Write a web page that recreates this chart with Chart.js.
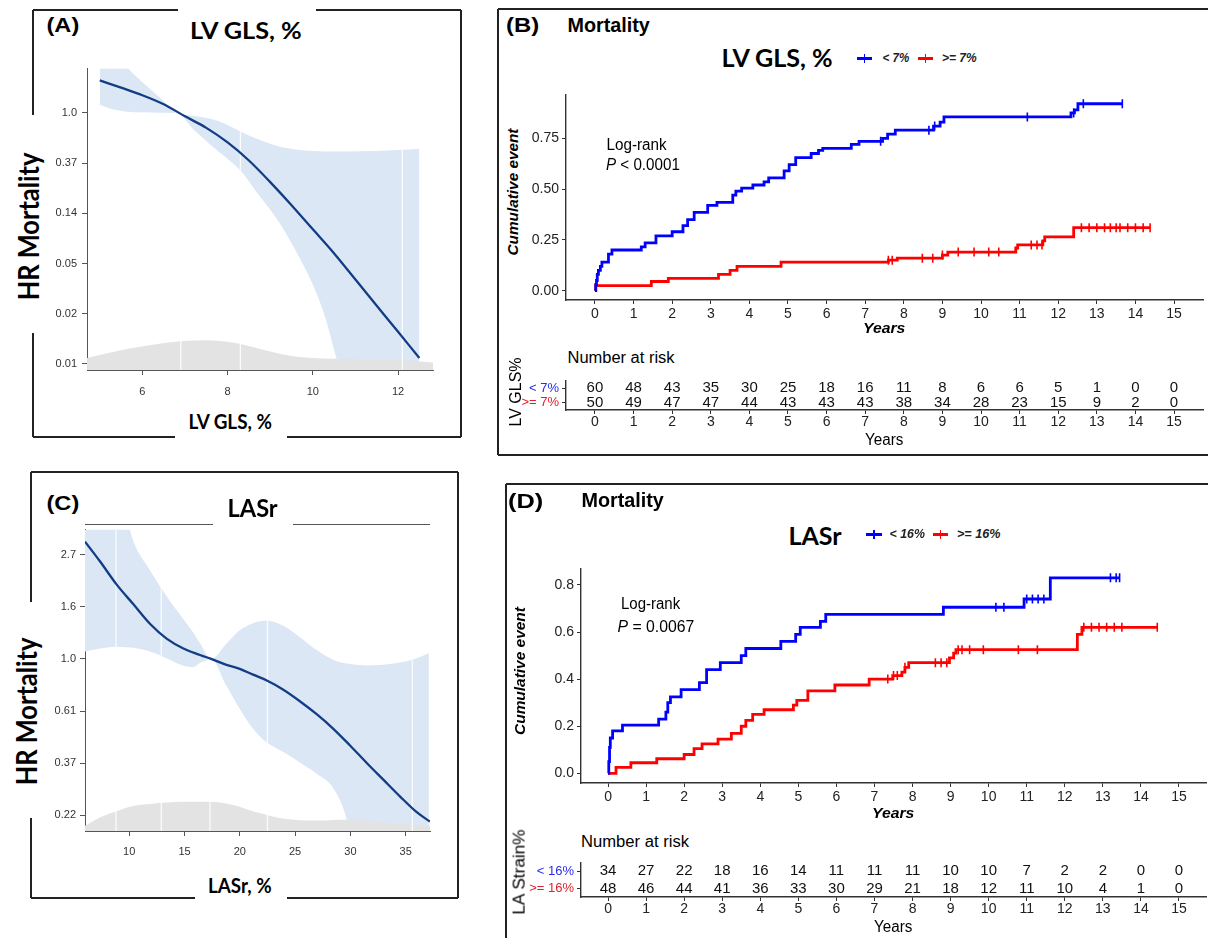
<!DOCTYPE html>
<html><head><meta charset="utf-8">
<script src="https://cdn.jsdelivr.net/npm/chart.js@4"></script>
<style>
html,body{margin:0;padding:0;background:#fff;}
body{width:1208px;height:938px;position:relative;overflow:hidden;}
canvas{position:absolute;}
.ln{position:absolute;background:#222;}
</style></head>
<body>
<script>
// ================= DATA =================
// Panel A: restricted cubic spline, LV GLS (ln HR scale)
const aCurveX = [5.0, 5.5, 6.0, 6.5, 7.0, 7.5, 8.0, 8.5, 9.0, 9.5, 10.0, 10.5, 11.0, 11.5, 12.0, 12.5];
const aCurveY = [0.645, 0.50, 0.35, 0.17, -0.07, -0.30, -0.59, -0.95, -1.38, -1.84, -2.32, -2.80, -3.32, -3.84, -4.36, -4.88];
const aBandX  = [5.0, 5.3, 5.65, 6.0, 6.4, 6.8, 7.2, 7.76, 8.3, 8.7, 9.17, 9.6, 10.0, 10.3, 10.56, 10.8, 11.5, 12.0, 12.5];
const aBandUp = [1.3, 1.3, 0.9, 0.61, 0.31, 0.0, -0.06, -0.16, -0.37, -0.52, -0.66, -0.73, -0.76, -0.77, -0.77, -0.77, -0.76, -0.74, -0.72];
const aBandLo = [0.16, 0.07, 0.02, 0.01, 0.0, 0.0, -0.33, -0.75, -1.15, -1.6, -2.13, -2.75, -3.42, -4.1, -4.9, -5.5, -5.5, -5.5, -5.5];
const aDensX  = [4.7, 5.2, 5.7, 6.2, 6.9, 7.5, 8.0, 8.5, 9.0, 9.5, 10.0, 11.0, 12.0, 12.82];
const aDensY  = [-4.88, -4.78, -4.69, -4.62, -4.55, -4.53, -4.56, -4.64, -4.75, -4.84, -4.88, -4.90, -4.92, -4.97];
const aRug    = [6.9, 8.3, 12.1];
const aXTicks = [6, 8, 10, 12];
const aYTicks = [0, -1, -2, -3, -4, -5];
const aYLabels = ['1.0', '0.37', '0.14', '0.05', '0.02', '0.01'];

// Panel C: restricted cubic spline, LASr (ln HR scale)
const cCurveX = [6.0, 7.35, 8.85, 10.36, 11.87, 13.38, 14.9, 16.4, 17.4, 18.8, 20.0, 21.2, 22.4, 23.9, 25.4, 26.95, 28.46, 29.97, 31.5, 33.0, 34.5, 36.0, 37.2];
const cCurveY = [1.125, 0.936, 0.715, 0.526, 0.337, 0.195, 0.10, 0.038, 0.0, -0.057, -0.095, -0.151, -0.205, -0.293, -0.403, -0.53, -0.67, -0.83, -1.0, -1.16, -1.32, -1.47, -1.56];
const cBandX  = [6.0, 7.35, 8.85, 9.9, 10.36, 11.87, 13.38, 14.9, 15.8, 16.4, 17.4, 18.8, 20.0, 21.2, 22.4, 23.9, 25.4, 26.95, 28.46, 29.67, 30.5, 31.5, 33.0, 34.5, 36.0, 37.1];
const cBandUp = [1.6, 1.6, 1.6, 1.3, 1.13, 0.85, 0.6, 0.38, 0.25, 0.15, 0.0, 0.148, 0.274, 0.343, 0.369, 0.32, 0.21, 0.085, -0.01, -0.045, -0.055, -0.063, -0.057, -0.035, 0.006, 0.054];
const cBandLo = [0.07, 0.10, 0.117, 0.11, 0.107, 0.07, 0.006, -0.066, -0.079, -0.04, 0.0, -0.26, -0.48, -0.67, -0.80, -0.89, -0.99, -1.10, -1.24, -1.54, -2.0, -2.0, -2.0, -2.0, -2.0, -2.0];
const cDensX  = [6.0, 7.35, 8.85, 10.36, 11.87, 14.9, 17.3, 19.4, 21.2, 23.9, 26.95, 29.97, 33.0, 37.2];
const cDensY  = [-1.60, -1.52, -1.46, -1.41, -1.39, -1.37, -1.37, -1.40, -1.46, -1.53, -1.55, -1.54, -1.57, -1.60];
const cRug    = [8.8, 12.9, 17.3, 22.5, 35.6];
const cXTicks = [10, 15, 20, 25, 30, 35];
const cYTicks = [1, 0.5, 0, -0.5, -1, -1.5];
const cYLabels = ['2.7', '1.6', '1.0', '0.61', '0.37', '0.22'];

// Panel B: cumulative mortality by LV GLS group
const bBlueT = [0, 0.02, 0.04, 0.06, 0.09, 0.14, 0.18, 0.35, 0.44, 1.2, 1.3, 1.58, 2.0, 2.28, 2.4, 2.57, 2.92, 3.16, 3.57, 3.65, 3.8, 4.09, 4.38, 4.5, 4.9, 5.03, 5.2, 5.6, 5.79, 5.9, 6.64, 6.84, 7.45, 7.58, 7.78, 8.77, 8.94, 9.04, 12.33, 12.42, 12.51, 13.66];
const bBlueS = [0, 0.03, 0.05, 0.08, 0.10, 0.12, 0.14, 0.18, 0.20, 0.215, 0.235, 0.27, 0.29, 0.32, 0.35, 0.385, 0.42, 0.435, 0.47, 0.49, 0.505, 0.52, 0.535, 0.555, 0.59, 0.62, 0.655, 0.675, 0.69, 0.70, 0.72, 0.735, 0.75, 0.77, 0.79, 0.81, 0.83, 0.855, 0.875, 0.89, 0.92, 0.92];
const bRedT  = [0, 0.02, 1.46, 1.9, 3.2, 3.5, 3.68, 4.82, 7.6, 7.83, 9.0, 9.14, 10.9, 10.95, 11.6, 11.65, 12.4, 14.38];
const bRedS  = [0, 0.025, 0.045, 0.06, 0.08, 0.10, 0.12, 0.14, 0.15, 0.16, 0.175, 0.19, 0.21, 0.225, 0.245, 0.265, 0.31, 0.31];
const bBlueCens = [7.4, 8.65, 8.8, 11.2, 12.4, 12.65, 13.66];
const bRedCens  = [7.6, 7.7, 8.48, 8.75, 9.0, 9.41, 9.82, 10.2, 10.46, 11.3, 11.45, 11.58, 12.6, 12.8, 13.0, 13.2, 13.35, 13.5, 13.6, 13.8, 14.0, 14.2, 14.38];
const bYTicks = [0, 0.25, 0.5, 0.75];
const bYLabels = ['0.00', '0.25', '0.50', '0.75'];
const bGroups = ['< 7%', '>= 7%'];
const bRiskLow  = [60, 48, 43, 35, 30, 25, 18, 16, 11, 8, 6, 6, 5, 1, 0, 0];
const bRiskHigh = [50, 49, 47, 47, 44, 43, 43, 43, 38, 34, 28, 23, 15, 9, 2, 0];

// Panel D: cumulative mortality by LASr group
const dBlueT = [0, 0.02, 0.04, 0.06, 0.12, 0.38, 1.33, 1.52, 1.57, 1.64, 1.92, 2.4, 2.59, 2.95, 3.5, 3.62, 4.54, 4.93, 5.05, 5.58, 5.72, 8.81, 10.93, 11.62, 13.44];
const dBlueS = [0, 0.05, 0.11, 0.15, 0.18, 0.205, 0.23, 0.26, 0.30, 0.325, 0.355, 0.385, 0.44, 0.47, 0.50, 0.53, 0.56, 0.59, 0.62, 0.645, 0.675, 0.705, 0.74, 0.83, 0.83];
const dRedT  = [0, 0.21, 0.6, 1.28, 2.0, 2.26, 2.47, 2.89, 3.24, 3.5, 3.62, 3.8, 4.1, 4.87, 4.96, 5.25, 5.96, 6.86, 7.48, 7.72, 7.8, 7.9, 8.97, 9.08, 9.14, 12.33, 12.45, 14.43];
const dRedS  = [0, 0.025, 0.045, 0.062, 0.08, 0.105, 0.125, 0.145, 0.17, 0.20, 0.225, 0.25, 0.27, 0.29, 0.31, 0.35, 0.375, 0.40, 0.415, 0.43, 0.45, 0.47, 0.49, 0.51, 0.525, 0.59, 0.62, 0.62];
const dBlueCens = [10.19, 10.4, 11.0, 11.15, 11.3, 11.45, 13.2, 13.35, 13.44];
const dRedCens  = [7.35, 7.5, 7.6, 7.8, 8.6, 8.75, 8.9, 9.2, 9.3, 9.5, 9.86, 10.78, 11.28, 12.5, 12.7, 12.9, 13.1, 13.3, 13.5, 14.43];
const dYTicks = [0, 0.2, 0.4, 0.6, 0.8];
const dYLabels = ['0.0', '0.2', '0.4', '0.6', '0.8'];
const dGroups = ['< 16%', '>= 16%'];
const dRiskLow  = [34, 27, 22, 18, 16, 14, 11, 11, 11, 10, 10, 7, 2, 2, 0, 0];
const dRiskHigh = [48, 46, 44, 41, 36, 33, 30, 29, 21, 18, 12, 11, 10, 4, 1, 0];

const years = [0, 1, 2, 3, 4, 5, 6, 7, 8, 9, 10, 11, 12, 13, 14, 15];

// ================= HELPERS =================
const ARIAL = '"Liberation Sans", Arial, sans-serif';
const NARROW = '"Liberation Sans Narrow", "Arial Narrow", "Liberation Sans", sans-serif';
const TITLE = 'Lato, "Open Sans", sans-serif';
const BLUE = '#0000ff', RED = '#ff0000';
const BLUE_T = '#2b2bf0', RED_T = '#e3202e';

function xy(xs, ys) { return xs.map((x, i) => ({ x: x, y: ys[i] })); }
function stepAt(ts, ss, t) { let v = ss[0]; for (let i = 0; i < ts.length; i++) { if (ts[i] <= t) v = ss[i]; } return v; }

function place(a) {
  const c = document.createElement('canvas');
  const left = a.L - a.wy, top = a.T - a.pt;
  const w = a.R - left + a.pr, h = a.B + a.hx - top;
  c.width = w; c.height = h;
  c.style.left = left + 'px'; c.style.top = top + 'px';
  c.style.width = w + 'px'; c.style.height = h + 'px';
  document.body.appendChild(c);
  return c;
}
function baseOptions(a) {
  return {
    responsive: false, animation: false, devicePixelRatio: 1, events: [],
    layout: { autoPadding: false, padding: { left: 0, top: a.pt, right: a.pr, bottom: 0 } },
    plugins: { legend: { display: false }, tooltip: { enabled: false }, title: { display: false } }
  };
}
function line(x1, y1, x2, y2, w, col) {
  const d = document.createElement('div');
  d.className = 'ln';
  if (col) d.style.background = col;
  if (y1 === y2) { d.style.left = x1 + 'px'; d.style.top = (y1 - w / 2) + 'px'; d.style.width = (x2 - x1) + 'px'; d.style.height = w + 'px'; }
  else { d.style.left = (x1 - w / 2) + 'px'; d.style.top = y1 + 'px'; d.style.width = w + 'px'; d.style.height = (y2 - y1) + 'px'; }
  document.body.appendChild(d);
}
function txt(html, x, y, o) {
  const d = document.createElement('div');
  d.innerHTML = html;
  d.style.cssText = 'position:absolute;white-space:nowrap;line-height:1;left:0;top:0;font:' + o.font + ';color:' + (o.color || '#000') + ';';
  document.body.appendChild(d);
  const w = d.offsetWidth, h = d.offsetHeight;
  const s = o.w ? o.w / w : 1;
  let cx = x;
  if (o.align === 'l') cx = x + w * s / 2;
  d.style.left = (cx - w / 2) + 'px';
  d.style.top = (y - h / 2) + 'px';
  d.style.transformOrigin = '50% 50%';
  d.style.transform = (o.rot ? 'rotate(-90deg) ' : '') + 'scaleX(' + s + ')';
}
function marker(x1, x2, y, col) {
  line(x1, y, x2, y, 3, col);
  line((x1 + x2) / 2, y - 4.5, (x1 + x2) / 2, y + 4.5, 1.6, col);
}

// ---------- spline HR chart ----------
function splineChart(a, c) {
  const cv = place(a);
  const ds = [];
  ds.push({ data: xy(c.curveX, c.curveY), borderColor: '#123d86', borderWidth: 2.3, pointRadius: 0, fill: false, cubicInterpolationMode: 'monotone', order: 0 });
  c.rug.forEach(x => ds.push({ data: [{ x: x, y: c.yMin }, { x: x, y: c.yMax }], borderColor: 'rgba(255,255,255,0.85)', borderWidth: 1.3, pointRadius: 0, fill: false, order: 1 }));
  ds.push({ data: xy(c.densX, c.densY), borderWidth: 0, borderColor: 'rgba(0,0,0,0)', backgroundColor: '#e3e3e3', fill: 'start', pointRadius: 0, cubicInterpolationMode: 'monotone', order: 2 });
  const up = ds.length;
  ds.push({ data: xy(c.bandX, c.bandUp), borderWidth: 0, borderColor: 'rgba(0,0,0,0)', backgroundColor: '#dbe7f4', fill: up + 1, pointRadius: 0, cubicInterpolationMode: 'monotone', order: 3 });
  ds.push({ data: xy(c.bandX, c.bandLo), borderWidth: 0, borderColor: 'rgba(0,0,0,0)', fill: false, pointRadius: 0, cubicInterpolationMode: 'monotone', order: 3 });
  const opt = baseOptions(a);
  opt.scales = {
    x: {
      type: 'linear', min: c.xMin, max: c.xMax,
      afterFit: s => { s.height = a.hx; },
      afterBuildTicks: s => { s.ticks = c.xTicks.map(v => ({ value: v })); },
      grid: { drawOnChartArea: false, tickLength: 5, color: '#555' },
      border: { color: '#555', width: 1 },
      ticks: { font: { family: ARIAL, size: 11 }, color: '#333', padding: a.xpad, maxRotation: 0, autoSkip: false }
    },
    y: {
      type: 'linear', min: c.yMin, max: c.yMax,
      afterFit: s => { s.width = a.wy; },
      afterBuildTicks: s => { s.ticks = c.yTicks.map(v => ({ value: v })); },
      grid: { drawOnChartArea: false, tickLength: 5, color: '#555' },
      border: { color: '#555', width: 1 },
      ticks: { font: { family: ARIAL, size: 11 }, color: '#333', padding: a.ypad, autoSkip: false, callback: (v, i) => c.yLabels[i] }
    }
  };
  new Chart(cv, { type: 'line', data: { datasets: ds }, options: opt });
}

// ---------- Kaplan-Meier chart ----------
function kmChart(a, c) {
  const cv = place(a);
  const ds = [
    { data: xy(c.blueT, c.blueS), stepped: true, borderColor: BLUE, borderWidth: 2.8, pointRadius: 0, fill: false },
    { data: xy(c.redT, c.redS), stepped: true, borderColor: RED, borderWidth: 2.8, pointRadius: 0, fill: false },
    { data: c.blueC.map(t => ({ x: t, y: stepAt(c.blueT, c.blueS, t) })), showLine: false, pointStyle: 'line', rotation: 90, pointRadius: 4.5, pointBorderWidth: 1.6, pointBorderColor: BLUE, borderColor: BLUE },
    { data: c.redC.map(t => ({ x: t, y: stepAt(c.redT, c.redS, t) })), showLine: false, pointStyle: 'line', rotation: 90, pointRadius: 4.5, pointBorderWidth: 1.6, pointBorderColor: RED, borderColor: RED }
  ];
  const opt = baseOptions(a);
  opt.scales = {
    x: {
      type: 'linear', min: c.xMin, max: c.xMax,
      afterFit: s => { s.height = a.hx; },
      afterBuildTicks: s => { s.ticks = years.map(v => ({ value: v })); },
      grid: { drawOnChartArea: false, tickLength: 4, color: '#333' },
      border: { color: '#333', width: 1.4 },
      ticks: { font: { family: NARROW, size: 14 }, color: '#222', padding: 2, maxRotation: 0, autoSkip: false }
    },
    y: {
      type: 'linear', min: c.yMin, max: c.yMax,
      afterFit: s => { s.width = a.wy; },
      afterBuildTicks: s => { s.ticks = c.yTicks.map(v => ({ value: v })); },
      grid: { drawOnChartArea: false, tickLength: 4, color: '#333' },
      border: { color: '#333', width: 1.4 },
      ticks: { font: { family: NARROW, size: 14 }, color: '#222', padding: 3, autoSkip: false, callback: (v, i) => c.yLabels[i] }
    }
  };
  new Chart(cv, { type: 'line', data: { datasets: ds }, options: opt });
}

// ---------- risk table chart ----------
function riskChart(a, c) {
  const cv = place(a);
  const rows = [c.low, c.high];
  const plug = {
    id: 'riskNumbers',
    afterDatasetsDraw(chart) {
      const ctx = chart.ctx, xs = chart.scales.x, ys = chart.scales.y;
      ctx.save();
      ctx.font = '15px ' + NARROW;
      ctx.fillStyle = '#111';
      ctx.textAlign = 'center';
      ctx.textBaseline = 'middle';
      rows.forEach((row, r) => row.forEach((n, i) => ctx.fillText(String(n), xs.getPixelForValue(years[i]), ys.getPixelForValue(r))));
      ctx.restore();
    }
  };
  const opt = baseOptions(a);
  opt.scales = {
    x: {
      type: 'linear', min: c.xMin, max: c.xMax,
      afterFit: s => { s.height = a.hx; },
      afterBuildTicks: s => { s.ticks = years.map(v => ({ value: v })); },
      grid: { drawOnChartArea: false, tickLength: 4, color: '#333' },
      border: { color: '#333', width: 1.4 },
      ticks: { font: { family: NARROW, size: 14 }, color: '#222', padding: 0, maxRotation: 0, autoSkip: false }
    },
    y: {
      type: 'category', labels: c.groups, offset: true,
      afterFit: s => { s.width = a.wy; },
      grid: { drawOnChartArea: false, tickLength: 4, color: '#333', offset: false },
      border: { color: '#333', width: 1.4 },
      ticks: { font: { family: NARROW, size: 13 }, color: ctx => (ctx.index === 0 ? BLUE_T : RED_T), padding: 3, autoSkip: false }
    }
  };
  new Chart(cv, { type: 'line', data: { datasets: [{ data: [], pointRadius: 0 }] }, options: opt, plugins: [plug] });
}

// ================= BUILD =================
// ---- Panel A ----
line(33, 10, 178, 10, 1.5); line(316, 10, 461, 10, 1.5);
line(33, 10, 33, 115, 1.5); line(33, 333, 33, 437, 1.5);
line(461, 10, 461, 437, 1.5);
line(33, 437, 175, 437, 1.5); line(287, 437, 461, 437, 1.5);
splineChart({ L: 87, T: 63, R: 433, B: 370, wy: 42, hx: 32, pt: 6, pr: 12, xpad: 10, ypad: 5 },
  { curveX: aCurveX, curveY: aCurveY, bandX: aBandX, bandUp: aBandUp, bandLo: aBandLo, densX: aDensX, densY: aDensY, rug: aRug,
    xMin: 4.7, xMax: 12.82, yMin: -5.12, yMax: 0.88, xTicks: aXTicks, yTicks: aYTicks, yLabels: aYLabels });
txt('(A)', 63, 25, { font: 'bold 20px ' + ARIAL, w: 33 });
txt('LV GLS, %', 246, 30, { font: 'bold 23px ' + TITLE, w: 112 });
txt('HR Mortality', 27, 226, { font: 'bold 29px ' + TITLE, w: 148, rot: true });
txt('LV GLS, %', 230, 421, { font: 'bold 20px ' + TITLE, w: 84 });

// ---- Panel C ----
line(31, 472, 458, 472, 1.5);
line(31, 472, 31, 602, 1.5); line(31, 818, 31, 898, 1.5);
line(458, 472, 458, 898, 1.5);
line(31, 898, 195, 898, 1.5); line(287, 898, 458, 898, 1.5);
line(85, 524, 213, 524, 1, '#555'); line(293, 524, 430, 524, 1, '#555');
splineChart({ L: 85, T: 525, R: 430, B: 831, wy: 42, hx: 32, pt: 6, pr: 12, xpad: 9, ypad: 4 },
  { curveX: cCurveX, curveY: cCurveY, bandX: cBandX, bandUp: cBandUp, bandLo: cBandLo, densX: cDensX, densY: cDensY, rug: cRug,
    xMin: 6.0, xMax: 37.2, yMin: -1.65, yMax: 1.24, xTicks: cXTicks, yTicks: cYTicks, yLabels: cYLabels });
txt('(C)', 63, 503, { font: 'bold 20px ' + ARIAL, w: 33 });
txt('LASr', 252, 507, { font: 'bold 25px ' + TITLE, w: 50 });
txt('HR Mortality', 25, 711, { font: 'bold 29px ' + TITLE, w: 148, rot: true });
txt('LASr, %', 240, 885, { font: 'bold 20px ' + TITLE, w: 64 });

// ---- Panel B ----
line(498, 9, 1208, 9, 2.2);
line(498, 9, 498, 455, 1.5);
line(498, 455, 1208, 455, 1.8);
kmChart({ L: 566, T: 87, R: 1203, B: 300, wy: 42, hx: 24, pt: 4, pr: 5 },
  { blueT: bBlueT, blueS: bBlueS, redT: bRedT, redS: bRedS, blueC: bBlueCens, redC: bRedCens,
    xMin: -0.75, xMax: 15.75, yMin: -0.046, yMax: 0.966, yTicks: bYTicks, yLabels: bYLabels });
riskChart({ L: 566, T: 373, R: 1203, B: 410, wy: 48, hx: 26, pt: 3, pr: 5 },
  { low: bRiskLow, high: bRiskHigh, groups: bGroups, xMin: -0.75, xMax: 15.75 });
txt('(B)', 522, 25, { font: 'bold 21px ' + ARIAL, w: 33 });
txt('Mortality', 608, 25, { font: 'bold 20px ' + NARROW, w: 82 });
txt('LV GLS, %', 777, 57, { font: 'bold 24px ' + TITLE, w: 111 });
marker(857, 872, 58, BLUE);
txt('&lt; 7%', 882, 58, { font: 'italic bold 12px ' + ARIAL, w: 27, align: 'l', color: '#222' });
marker(918, 933, 58, RED);
txt('&gt;= 7%', 942, 58, { font: 'italic bold 12px ' + ARIAL, w: 35, align: 'l', color: '#222' });
txt('Log-rank', 606, 145, { font: '16px ' + NARROW, w: 60, align: 'l' });
txt('<i>P</i> &lt; 0.0001', 606, 165, { font: '16px ' + NARROW, w: 74, align: 'l' });
txt('Cumulative event', 513, 192, { font: 'italic bold 14px ' + ARIAL, w: 127, rot: true });
txt('Years', 884, 327, { font: 'italic bold 15px ' + ARIAL, w: 42 });
txt('Number at risk', 567, 358, { font: '16px ' + NARROW, w: 107, align: 'l' });
txt('LV GLS%', 515, 392, { font: '16px ' + ARIAL, w: 69, rot: true });
txt('Years', 884, 440, { font: '16px ' + NARROW, w: 38 });

// ---- Panel D ----
line(506, 484, 1208, 484, 2.5);
line(506, 484, 506, 938, 1.5);
kmChart({ L: 581, T: 561, R: 1206, B: 783, wy: 42, hx: 24, pt: 4, pr: 2 },
  { blueT: dBlueT, blueS: dBlueS, redT: dRedT, redS: dRedS, blueC: dBlueCens, redC: dRedCens,
    xMin: -0.71, xMax: 15.71, yMin: -0.041, yMax: 0.87, yTicks: dYTicks, yLabels: dYLabels });
riskChart({ L: 581, T: 855, R: 1206, B: 897, wy: 54, hx: 26, pt: 3, pr: 2 },
  { low: dRiskLow, high: dRiskHigh, groups: dGroups, xMin: -0.71, xMax: 15.71 });
txt('(D)', 525, 501, { font: 'bold 21px ' + ARIAL, w: 35 });
txt('Mortality', 622, 500, { font: 'bold 20px ' + NARROW, w: 82 });
txt('LASr', 815, 535, { font: 'bold 25px ' + TITLE, w: 53 });
marker(866, 882, 534, BLUE);
txt('&lt; 16%', 889, 534, { font: 'italic bold 12px ' + ARIAL, w: 35, align: 'l', color: '#222' });
marker(933, 948, 534, RED);
txt('&gt;= 16%', 957, 534, { font: 'italic bold 12px ' + ARIAL, w: 43, align: 'l', color: '#222' });
txt('Log-rank', 621, 604, { font: '16px ' + NARROW, w: 59, align: 'l' });
txt('<i>P</i> = 0.0067', 617, 627, { font: '16px ' + NARROW, w: 77, align: 'l' });
txt('Cumulative event', 520, 671, { font: 'italic bold 14px ' + ARIAL, w: 128, rot: true });
txt('Years', 893, 812, { font: 'italic bold 15px ' + ARIAL, w: 42 });
txt('Number at risk', 581, 842, { font: '16px ' + NARROW, w: 108, align: 'l' });
txt('LA Strain%', 519, 872, { font: '16px ' + ARIAL, w: 85, rot: true });
txt('Years', 893, 927, { font: '16px ' + NARROW, w: 38 });
</script>
</body></html>
